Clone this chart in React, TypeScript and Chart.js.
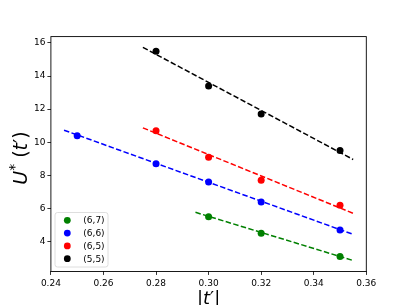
import React, { useEffect, useRef } from "react";
import { Chart, registerables } from "chart.js";

Chart.register(...registerables);

const seriesNames = ["(6,7)", "(6,6)", "(6,5)", "(5,5)"];
const seriesColors = ["#008000", "#0000ff", "#ff0000", "#000000"];

const x67 = [0.3, 0.32, 0.35];
const y67 = [5.5, 4.5, 3.1];
const x66 = [0.25, 0.28, 0.3, 0.32, 0.35];
const y66 = [10.4, 8.7, 7.6, 6.4, 4.7];
const x65 = [0.28, 0.3, 0.32, 0.35];
const y65 = [10.7, 9.1, 7.7, 6.2];
const x55 = [0.28, 0.3, 0.32, 0.35];
const y55 = [15.5, 13.4, 11.7, 9.5];

// fitted dashed lines (start / end)
const fitX67 = [0.295, 0.355];
const fitY67 = [5.77, 2.86];
const fitX66 = [0.245, 0.355];
const fitY66 = [10.73, 4.44];
const fitX65 = [0.275, 0.355];
const fitY65 = [10.87, 5.71];
const fitX55 = [0.275, 0.355];
const fitY55 = [15.73, 8.96];

const xTicks = [0.24, 0.26, 0.28, 0.3, 0.32, 0.34, 0.36];
const yTicks = [4, 6, 8, 10, 12, 14, 16];

const FONT = "'DejaVu Sans', sans-serif";
const W = 407;
const H = 305;
const AREA = { left: 50.9, right: 366.3, top: 36.6, bottom: 271.45 };

const zip = (xs: number[], ys: number[]) => xs.map((x, i) => ({ x, y: ys[i] }));

const pointSets = [zip(x67, y67), zip(x66, y66), zip(x65, y65), zip(x55, y55)];
const fitSets = [zip(fitX67, fitY67), zip(fitX66, fitY66), zip(fitX65, fitY65), zip(fitX55, fitY55)];

function drawPieces(ctx: CanvasRenderingContext2D, pieces: { t: string; f: string; dy?: number }[], cx: number) {
  let total = 0;
  const widths = pieces.map((p) => {
    ctx.font = p.f;
    const w = ctx.measureText(p.t).width;
    total += w;
    return w;
  });
  let u = cx - total / 2;
  pieces.forEach((p, i) => {
    ctx.font = p.f;
    ctx.fillText(p.t, u, p.dy || 0);
    u += widths[i];
  });
}

const decorPlugin = {
  id: "decor",
  afterDatasetsDraw(chart: any) {
    const ctx: CanvasRenderingContext2D = chart.ctx;
    const a = chart.chartArea;
    ctx.save();
    // frame
    ctx.strokeStyle = "#000";
    ctx.lineWidth = 0.9;
    ctx.strokeRect(a.left, a.top, a.right - a.left, a.bottom - a.top);

    // legend
    const bx = 55, by = 212.5, bw = 53, bh = 54.5, r = 2.5;
    ctx.beginPath();
    ctx.moveTo(bx + r, by);
    ctx.lineTo(bx + bw - r, by);
    ctx.quadraticCurveTo(bx + bw, by, bx + bw, by + r);
    ctx.lineTo(bx + bw, by + bh - r);
    ctx.quadraticCurveTo(bx + bw, by + bh, bx + bw - r, by + bh);
    ctx.lineTo(bx + r, by + bh);
    ctx.quadraticCurveTo(bx, by + bh, bx, by + bh - r);
    ctx.lineTo(bx, by + r);
    ctx.quadraticCurveTo(bx, by, bx + r, by);
    ctx.closePath();
    ctx.fillStyle = "rgba(255,255,255,0.8)";
    ctx.fill();
    ctx.strokeStyle = "#d6d6d6";
    ctx.lineWidth = 0.8;
    ctx.stroke();
    ctx.font = `9px ${FONT}`;
    ctx.textBaseline = "middle";
    ctx.textAlign = "left";
    seriesNames.forEach((n, i) => {
      const yy = 220.3 + i * 12.8;
      ctx.beginPath();
      ctx.arc(67.3, yy, 3.4, 0, Math.PI * 2);
      ctx.fillStyle = seriesColors[i];
      ctx.fill();
      ctx.fillStyle = "#000";
      ctx.fillText(n, 83.3, yy + 0.5);
    });

    // axis titles
    ctx.fillStyle = "#000";
    ctx.textBaseline = "alphabetic";
    ctx.textAlign = "left";
    ctx.save();
    ctx.translate(27, 0);
    ctx.rotate(-Math.PI / 2);
    ctx.translate(-158, 0);
    drawPieces(
      ctx,
      [
        { t: "U", f: `italic 19px ${FONT}` },
        { t: "*", f: `14px ${FONT}`, dy: -8 },
        { t: " (", f: `19px ${FONT}` },
        { t: "t", f: `italic 19px ${FONT}` },
        { t: "′", f: `19px ${FONT}` },
        { t: ")", f: `19px ${FONT}` },
      ],
      0
    );
    ctx.restore();

    ctx.save();
    ctx.translate(0, 303.5);
    drawPieces(
      ctx,
      [
        { t: "|", f: `18px ${FONT}` },
        { t: "t", f: `italic 18px ${FONT}` },
        { t: "′", f: `18px ${FONT}` },
        { t: "|", f: `18px ${FONT}` },
      ],
      (a.left + a.right) / 2
    );
    ctx.restore();
    ctx.restore();
  },
};

export default function App() {
  const ref = useRef<HTMLCanvasElement | null>(null);
  useEffect(() => {
    if (!ref.current) return;
    const datasets: any[] = [];
    fitSets.forEach((d, i) => {
      datasets.push({
        type: "scatter",
        data: d,
        showLine: true,
        borderColor: seriesColors[i],
        borderWidth: 1.5,
        borderDash: [5.5, 2.4],
        pointRadius: 0,
        fill: false,
        order: 2,
      });
    });
    pointSets.forEach((d, i) => {
      datasets.push({
        type: "scatter",
        label: seriesNames[i],
        data: d,
        backgroundColor: seriesColors[i],
        borderWidth: 0,
        pointRadius: 3.5,
        order: 1,
      });
    });
    const chart = new Chart(ref.current, {
      type: "scatter",
      data: { datasets },
      options: {
        responsive: false,
        animation: false,
        events: [],
        layout: { padding: { left: 0, top: AREA.top, right: W - AREA.right, bottom: 0 } },
        plugins: { legend: { display: false }, tooltip: { enabled: false } },
        scales: {
          x: {
            type: "linear",
            min: 0.24,
            max: 0.36,
            afterFit: (s: any) => {
              s.height = H - AREA.bottom;
            },
            afterBuildTicks: (s: any) => {
              s.ticks = xTicks.map((v) => ({ value: v }));
            },
            grid: { display: true, drawOnChartArea: false, drawTicks: true, tickLength: 3.5, color: "#000", lineWidth: 0.8 },
            border: { display: false },
            ticks: {
              color: "#000",
              font: { family: FONT, size: 9 },
              padding: 3,
              maxRotation: 0,
              autoSkip: false,
              callback: (v: any) => Number(v).toFixed(2),
            },
          },
          y: {
            type: "linear",
            min: 2.2,
            max: 16.38,
            afterFit: (s: any) => {
              s.width = AREA.left;
            },
            afterBuildTicks: (s: any) => {
              s.ticks = yTicks.map((v) => ({ value: v }));
            },
            grid: { display: true, drawOnChartArea: false, drawTicks: true, tickLength: 3.5, color: "#000", lineWidth: 0.8 },
            border: { display: false },
            ticks: {
              color: "#000",
              font: { family: FONT, size: 9 },
              padding: 2,
              autoSkip: false,
              callback: (v: any) => String(v),
            },
          },
        },
      },
      plugins: [decorPlugin],
    });
    return () => chart.destroy();
  }, []);
  return (
    <div style={{ position: "absolute", left: 0, top: 0, width: W, height: H, background: "#fff" }}>
      <canvas ref={ref} width={W} height={H} style={{ display: "block", width: W, height: H }} />
    </div>
  );
}
